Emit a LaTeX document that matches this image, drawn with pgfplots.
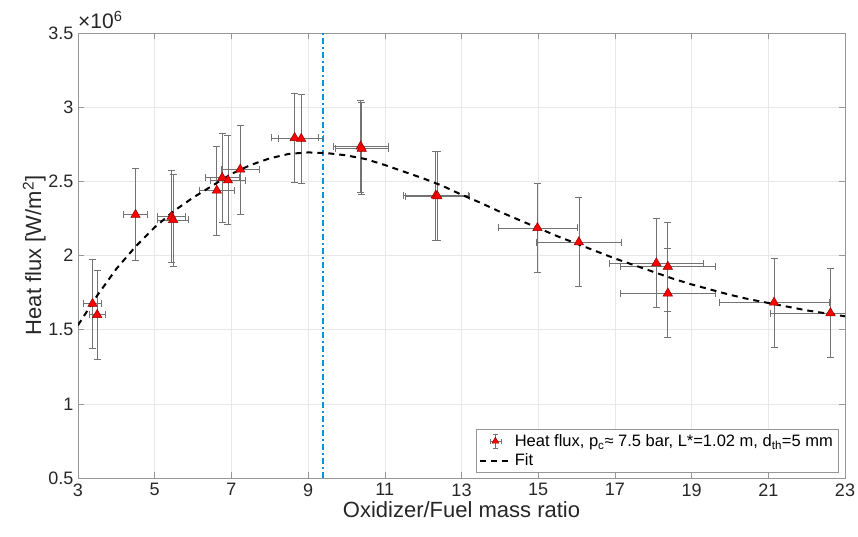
\documentclass[border=0pt]{standalone}
\usepackage{pgfplots}
\pgfplotsset{compat=1.18}
\usepackage{fontspec}
\setmainfont{Liberation Sans}
\definecolor{errgray}{RGB}{115,115,115}
\definecolor{axgray}{RGB}{150,150,150}
\definecolor{gridgray}{RGB}{232,232,232}
\definecolor{darkred}{RGB}{140,0,0}
\definecolor{vblue}{RGB}{0,150,220}
\definecolor{txt}{RGB}{38,38,38}
\pgfplotstableread{
x y ex ey
3.38 1.675 0.24 0.30
3.50 1.600 0.21 0.30
4.50 2.275 0.32 0.31
5.44 2.262 0.36 0.31
5.48 2.240 0.40 0.31
6.62 2.438 0.45 0.30
6.76 2.524 0.44 0.30
6.91 2.507 0.46 0.30
7.23 2.580 0.49 0.30
8.65 2.793 0.61 0.30
8.82 2.787 0.59 0.30
10.37 2.735 0.72 0.31
10.40 2.720 0.70 0.31
12.33 2.405 0.85 0.30
12.37 2.400 0.83 0.30
14.98 2.186 1.03 0.30
16.06 2.090 1.10 0.30
18.08 1.948 1.22 0.30
18.38 1.925 1.24 0.30
18.38 1.745 1.24 0.30
21.15 1.683 1.43 0.30
22.62 1.612 1.57 0.30
}\datatable
\pgfplotstableread{
x y
3 1.53
3.5 1.73
4 1.91
4.5 2.06
5 2.19
5.5 2.30
6 2.39
6.5 2.47
7 2.55
7.5 2.61
8 2.655
8.5 2.685
9 2.695
9.5 2.69
10 2.675
10.5 2.65
11 2.61
11.5 2.565
12 2.52
12.5 2.47
13 2.41
13.5 2.355
14 2.295
14.5 2.24
15 2.185
15.5 2.13
16 2.08
16.5 2.03
17 1.98
17.5 1.935
18 1.89
18.5 1.845
19 1.805
19.5 1.77
20 1.735
20.5 1.705
21 1.68
21.5 1.655
22 1.63
22.5 1.61
23 1.59
}\fittable
\pgfplotstableread{
x y
9.4 0.5
9.4 3.5
}\vlinetable
\begin{document}
\begin{tikzpicture}
\path[use as bounding box] (-78bp,-59bp) rectangle (780bp,478bp);
\begin{axis}[
  name=ax,
  scale only axis,
  width=767bp, height=445bp,
  at={(0,0)}, anchor=south west,
  xmin=3, xmax=23, ymin=0.5, ymax=3.5,
  xtick={3,5,...,23},
  ytick={0.5,1,1.5,2,2.5,3,3.5},
  yticklabels={0.5,1,1.5,2,2.5,3,3.5},
  grid=major,
  major grid style={draw=gridgray, line width=0.6bp},
  axis line style={draw=axgray, line width=0.8bp},
  tick style={draw=axgray, line width=0.6bp},
  tick align=inside,
  major tick length=6bp,
  /pgf/number format/assume math mode=true,
  ticklabel style={font=\fontsize{18bp}{20bp}\selectfont, text=txt},
  xticklabel style={yshift=-2bp},
  yticklabel style={xshift=-1bp},
  xlabel={Oxidizer/Fuel mass ratio},
  ylabel={Heat flux [W/m\textsuperscript{2}]},
  label style={font=\fontsize{22bp}{24bp}\selectfont, text=txt},
  xlabel style={yshift=2bp},
  ylabel style={yshift=-4bp},
  legend style={font=\fontsize{16.5bp}{19bp}\selectfont, draw=axgray, line width=0.6bp,
    at={(0.991,0.012)}, anchor=south east, inner xsep=3bp, inner ysep=3bp,
    row sep=2bp, text=black},
  legend cell align=left,
]
\addplot[vblue, line width=2bp, dash pattern=on 6bp off 3bp on 2bp off 3bp, forget plot]
  table[x=x, y=y] {\vlinetable};
\addplot[only marks, mark=triangle*, mark size=5.4bp,
  mark options={fill=red, draw=darkred, line width=0.5bp},
  legend image code/.code={
  \draw[errgray, line width=0.6bp] (11bp,0)--(22bp,0) (11bp,-2.5bp)--(11bp,2.5bp) (22bp,-2.5bp)--(22bp,2.5bp)
     (16.5bp,-7bp)--(16.5bp,7bp) (14bp,-7bp)--(19bp,-7bp) (14bp,7bp)--(19bp,7bp);
  \fill[red, draw=darkred, line width=0.4bp] (16.5bp,4bp)--(13bp,-2bp)--(20bp,-2bp)--cycle;
  },
  error bars/.cd, x dir=both, y dir=both, x explicit, y explicit,
  error bar style={draw=errgray, line width=0.7bp},
  error mark options={draw=errgray, line width=0.7bp, mark size=3.5bp, rotate=90}
  ] table[x=x, y=y, x error=ex, y error=ey] {\datatable};
\addlegendentry{Heat flux, p\textsubscript{c}≈ 7.5 bar, L*=1.02 m, d\textsubscript{th}=5 mm}
\addplot[black, line width=2bp, dash pattern=on 6bp off 5bp,
  legend image code/.code={\draw[black, line width=1.8bp, dash pattern=on 6bp off 5bp] (1bp,0)--(33bp,0);}]
  table[x=x, y=y] {\fittable};
\addlegendentry{Fit}
\end{axis}
\node[anchor=south west, font=\fontsize{21bp}{23bp}\selectfont, text=txt, inner sep=0pt]
  at ([yshift=4bp]ax.north west) {×10\textsuperscript{6}};
\end{tikzpicture}
\end{document}
